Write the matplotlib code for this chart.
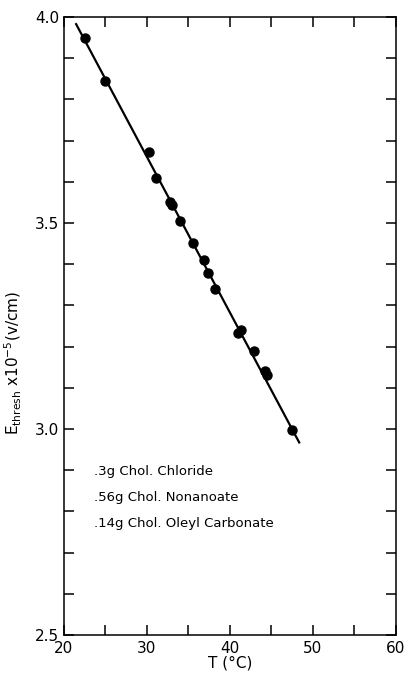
import numpy as np
import matplotlib
matplotlib.use('Agg')
import matplotlib.pyplot as plt
from matplotlib.ticker import MultipleLocator

plt.rcParams['font.family'] = ['DejaVu Sans']
plt.rcParams['mathtext.default'] = 'regular'

# measured points
temp = [22.5, 24.9, 30.2, 31.1, 32.8, 33.0, 34.0, 35.5, 36.9, 37.4, 38.2,
        41.0, 41.3, 42.9, 44.2, 44.5, 47.5]
e_thresh = [3.950, 3.845, 3.672, 3.609, 3.551, 3.543, 3.506, 3.452, 3.409,
            3.379, 3.341, 3.234, 3.240, 3.190, 3.140, 3.130, 2.997]

# drawn fit line ends
fit_t = [21.4, 48.4]
fit_e = [3.985, 2.965]

notes = ['.3g Chol. Chloride', '.56g Chol. Nonanoate', '.14g Chol. Oleyl Carbonate']

fig = plt.figure(figsize=(4.04, 6.77), dpi=100)
ax = fig.add_axes([0.1584, 0.062, 0.8218, 0.9129])

ax.plot(fit_t, fit_e, color='black', lw=1.6, solid_capstyle='butt')
ax.plot(temp, e_thresh, 'o', color='black', ms=6.5)

ax.set_xlim(20, 60)
ax.set_ylim(2.5, 4.0)
ax.xaxis.set_major_locator(MultipleLocator(10))
ax.xaxis.set_minor_locator(MultipleLocator(5))
ax.yaxis.set_major_locator(MultipleLocator(0.5))
ax.yaxis.set_minor_locator(MultipleLocator(0.1))
ax.yaxis.set_major_formatter(plt.FormatStrFormatter('%.1f'))
ax.tick_params(which='both', direction='in', length=7.5, width=1.1,
               top=True, right=True, labelsize=11)
ax.tick_params(axis='x', pad=4)
for s in ax.spines.values():
    s.set_linewidth(1.1)

ax.set_xlabel('T (°C)', fontsize=11, labelpad=0)
ax.set_ylabel(r'E$_{thresh}$ x10$^{-5}$(v/cm)', fontsize=11)
ax.yaxis.set_label_coords(-0.12, 0.44)

for i, s in enumerate(notes):
    ax.text(0.09, 0.264 - i * 0.0415, s, transform=ax.transAxes,
            fontsize=9.5, va='center')

fig.savefig('out.png', dpi=100)
